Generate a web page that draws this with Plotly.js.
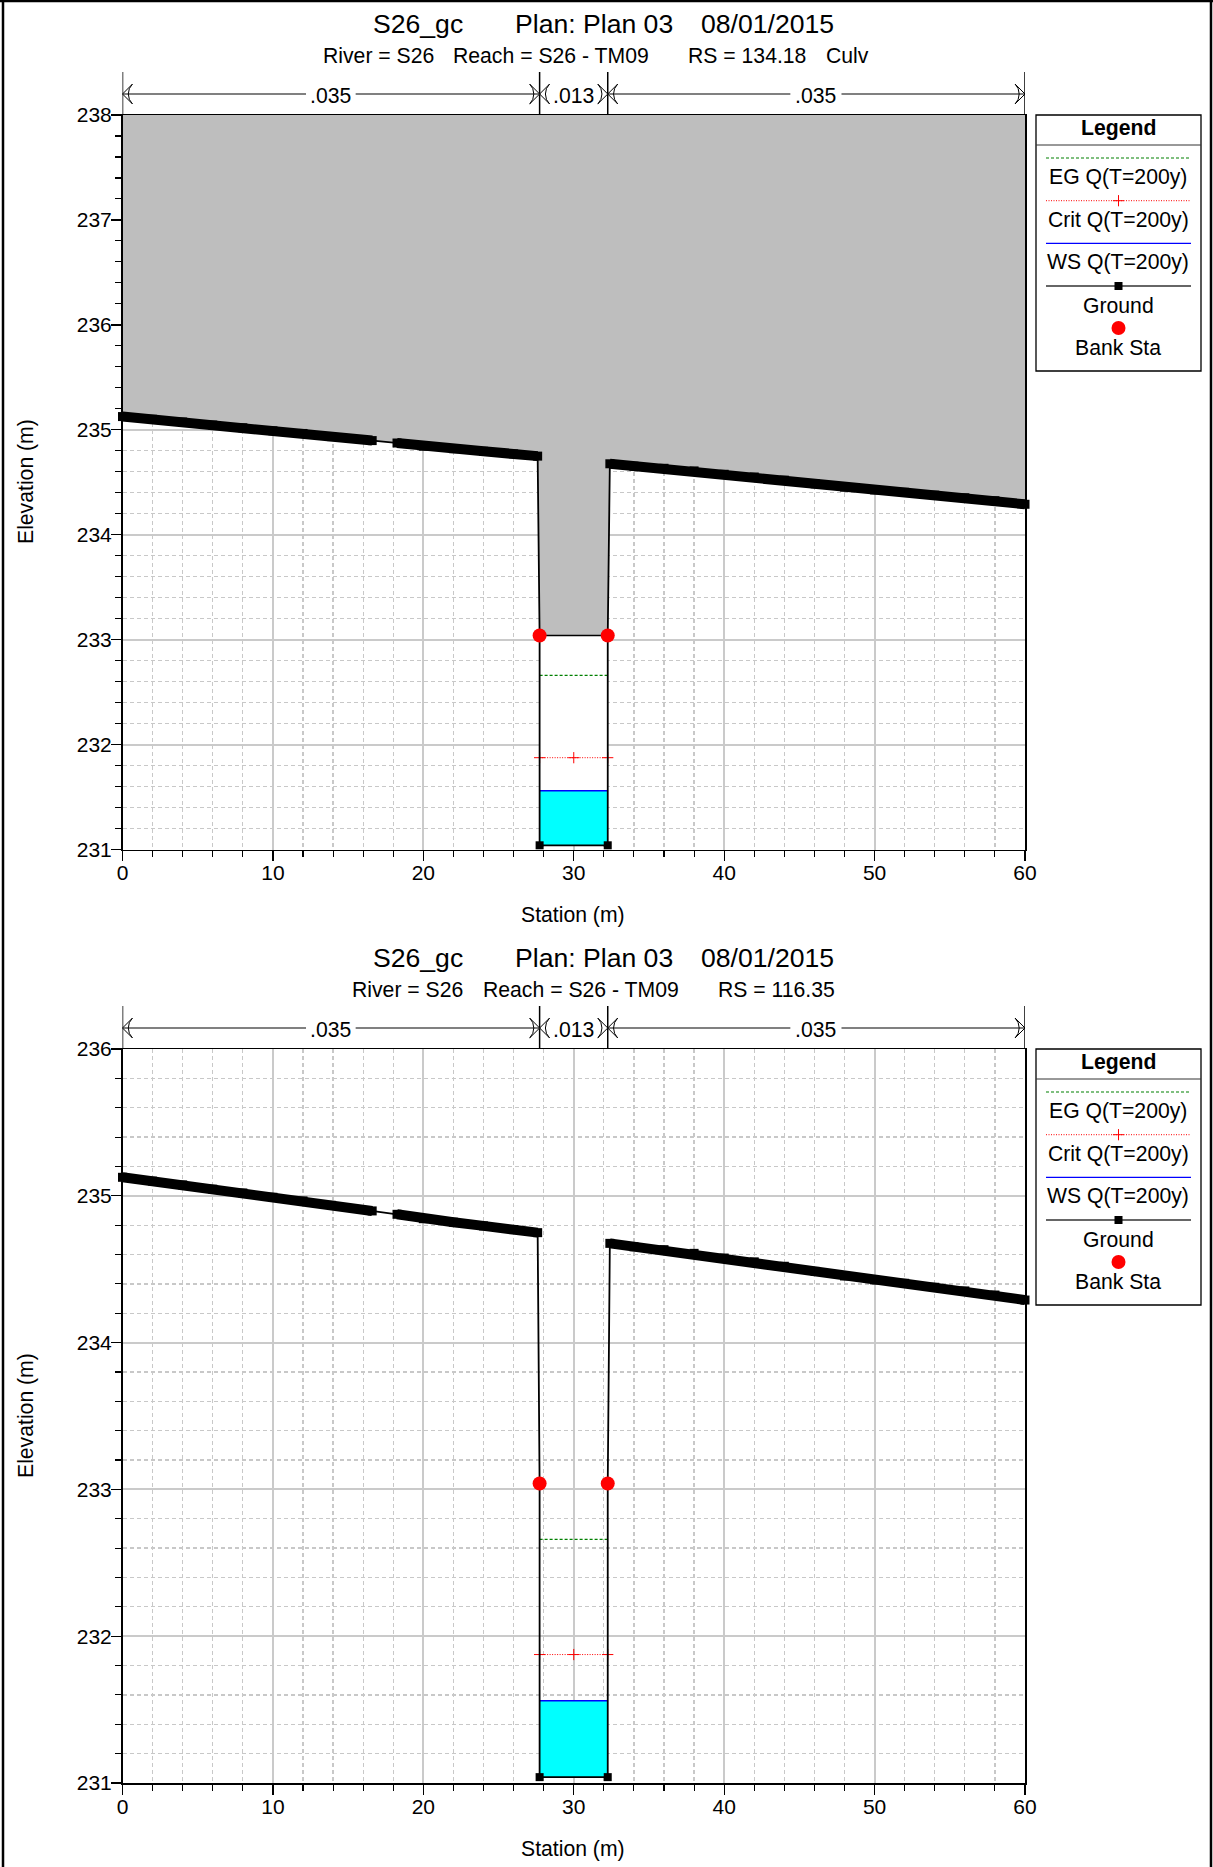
<!DOCTYPE html>
<html><head><meta charset="utf-8">
<script src="https://cdn.plot.ly/plotly-3.0.1.min.js"></script>
<style>html,body{margin:0;padding:0;background:#fff}#c{width:1213px;height:1867px}</style>
</head><body><div id="c"></div>
<script>
// ---- data ----
const groundLeftSta  = [0,2,4,6,8,10,12,13.9,16.6];
const groundLeftElev = [235.126,235.10,235.074,235.045,235.019,234.99,234.965,234.935,234.897];
const groundMidSta   = [18.25,20,22,24,26,27.6];
const groundMidElev  = [234.874,234.844,234.82,234.795,234.77,234.749];
const groundRightSta = [32.4,34,36,38,40,42,44,46.05,48,50,52,54,56,58,60];
const groundRightElev= [234.676,234.653,234.633,234.608,234.576,234.55,234.52,234.485,234.454,234.427,234.404,234.377,234.352,234.324,234.29];
const bankSta = [27.73,32.26];
const bankElev = 233.04;
const invertElev = 231.04;
const egElev = 232.66;
const critElev = 231.875;
const wsElev = 231.56;
const critSta = [27.73,30,32.26];
const nValues = [".035",".013",".035"];
const nLabelSta = [13.85,30,46.1];
const legendNames = ["EG Q(T=200y)","Crit Q(T=200y)","WS Q(T=200y)","Ground","Bank Sta"];
const titleMain = ["S26_gc","Plan: Plan 03","08/01/2015"];
const subtitles = [
  ["River = S26","Reach = S26 - TM09","RS = 134.18","Culv"],
  ["River = S26","Reach = S26 - TM09","RS = 116.35"]
];
// ---- layout constants ----
const W=1213,H=1867;
const FONT='"Liberation Sans", Arial, sans-serif';
const OFF=934;
const TXT=21.2;
const panels=[
 {xa:'x',ya:'y',ba:'y4',top:115,bottom:849.5,ymin:231,ymax:238,deck:true},
 {xa:'x2',ya:'y2',ba:'y5',top:1049,bottom:1783,ymin:231,ymax:236,deck:false}
];
const fx=p=>p/W, fy=p=>1-p/H;
const traces=[],shapes=[],ann=[];
const groundAllSta=[...groundLeftSta,...groundMidSta,bankSta[0],bankSta[0],bankSta[1],bankSta[1],...groundRightSta];
const groundAllElev=[...groundLeftElev,...groundMidElev,bankElev,invertElev,invertElev,bankElev,...groundRightElev];

panels.forEach((p,i)=>{
  const xy={xaxis:p.xa,yaxis:p.ya,mode:'lines',hoverinfo:'skip'};
  if(p.deck){
    traces.push({...xy,x:[0,60,...[...groundRightSta].reverse(),bankSta[1],bankSta[0],...[...groundMidSta].reverse(),...[...groundLeftSta].reverse()],
      y:[p.ymax,p.ymax,...[...groundRightElev].reverse(),bankElev,bankElev,...[...groundMidElev].reverse(),...[...groundLeftElev].reverse()],
      fill:'toself',fillcolor:'#bebebe',line:{width:0}});
    traces.push({...xy,x:[bankSta[0],bankSta[1],bankSta[1],bankSta[0]],y:[bankElev,bankElev,invertElev,invertElev],
      fill:'toself',fillcolor:'#ffffff',line:{width:0}});
    traces.push({...xy,x:bankSta,y:[bankElev,bankElev],line:{color:'#000',width:1.5}});
  }
  // water
  traces.push({...xy,x:[bankSta[0],bankSta[1],bankSta[1],bankSta[0]],y:[wsElev,wsElev,invertElev,invertElev],
    fill:'toself',fillcolor:'#00ffff',line:{width:0}});
  traces.push({...xy,name:legendNames[0],x:bankSta,y:[egElev,egElev],line:{color:'#008000',width:1.3,dash:'3px,2px'}});
  traces.push({...xy,name:legendNames[1],mode:'lines+markers',x:critSta,y:critSta.map(()=>critElev),
    line:{color:'#ff0000',width:1,dash:'1px,1.5px'},marker:{symbol:'cross-thin',size:8,line:{color:'#ff0000',width:1}},cliponaxis:false});
  traces.push({...xy,name:legendNames[2],x:bankSta,y:[wsElev,wsElev],line:{color:'#0000ff',width:1.5}});
  // ground thin line, then dense band
  traces.push({...xy,name:legendNames[3],x:groundAllSta,y:groundAllElev,line:{color:'#000',width:1.8},cliponaxis:false});
  traces.push({...xy,mode:'lines+markers',cliponaxis:false,
    x:[...groundLeftSta,null,...groundMidSta,null,...groundRightSta],
    y:[...groundLeftElev,null,...groundMidElev,null,...groundRightElev],
    line:{color:'#000',width:10},marker:{symbol:'square',size:9,color:'#000'},connectgaps:false});
  traces.push({...xy,mode:'markers',x:bankSta,y:[invertElev,invertElev],marker:{symbol:'square',size:8,color:'#000'},cliponaxis:false});
  traces.push({...xy,name:legendNames[4],mode:'markers',x:bankSta,y:[bankElev,bankElev],marker:{symbol:'circle',size:14,color:'#ff0000'},cliponaxis:false});

  // Manning's n bar above the plot: own strip axis (same stations, height in px above the plot)
  const bar={xaxis:'x4',yaxis:p.ba,hoverinfo:'skip',cliponaxis:false};
  const yArrow=21, yStem=43;
  const bounds=[0,bankSta[0],bankSta[1],60];
  bounds.forEach(b=>traces.push({...bar,mode:'lines',x:[b,b],y:[0,yStem],line:{color:'#000',width:1.5}}));
  traces.push({...bar,mode:'lines',x:[0,12.2,null,15.5,bankSta[0],null,bankSta[1],44.4,null,47.8,60],
    y:[yArrow,yArrow,null,yArrow,yArrow,null,yArrow,yArrow,null,yArrow,yArrow],line:{color:'#808080',width:2}});
  traces.push({...bar,mode:'markers',x:[0,bankSta[0],bankSta[0],bankSta[1],bankSta[1],60],y:[yArrow,yArrow,yArrow,yArrow,yArrow,yArrow],
    marker:{symbol:'arrow-wide-open',size:14,angle:[270,90,270,90,270,90],color:'#000',line:{color:'#222',width:1}}});
  nValues.forEach((t,j)=>ann.push({xref:'x4',yref:p.ba,x:nLabelSta[j],y:19.5,text:t,showarrow:false,xanchor:'center',yanchor:'middle',font:{size:TXT,family:FONT,color:'#000'},bgcolor:'#fff',borderpad:0}));

  // titles
  const d=i*OFF;
  [[373,titleMain[0]],[515,titleMain[1]],[701,titleMain[2]]].forEach(a=>ann.push({xref:'paper',yref:'paper',x:fx(a[0]),y:fy(24+d),text:a[1],showarrow:false,xanchor:'left',yanchor:'middle',xshift:-2,font:{size:26.6,family:FONT,color:'#000'}}));
  const sx=i==0?[322.5,453,688,826]:[352,483,718];
  subtitles[i].forEach((t,j)=>ann.push({xref:'paper',yref:'paper',x:fx(sx[j]),y:fy(55+d),text:t,showarrow:false,xanchor:'left',yanchor:'middle',xshift:-2,font:{size:TXT,family:FONT,color:'#000'}}));
  ann.push({xref:'paper',yref:'paper',x:fx(573),y:fy(915+d),text:'Station (m)',showarrow:false,xanchor:'center',yanchor:'middle',font:{size:TXT,family:FONT,color:'#000'}});
  ann.push({xref:'paper',yref:'paper',x:fx(26),y:fy(482+d),text:'Elevation (m)',textangle:-90,showarrow:false,xanchor:'center',yanchor:'middle',font:{size:TXT,family:FONT,color:'#000'}});

  // legend box
  shapes.push({type:'rect',xref:'paper',yref:'paper',x0:fx(1036),x1:fx(1201),y0:fy(115+d),y1:fy(371+d),fillcolor:'#fff',line:{color:'#000',width:1.3},layer:'below'});
  const ln=(y,color,width,dash)=>shapes.push({type:'line',xref:'paper',yref:'paper',x0:fx(1046),x1:fx(1191),y0:fy(y+d),y1:fy(y+d),line:{color,width,dash},layer:'below'});
  shapes.push({type:'line',xref:'paper',yref:'paper',x0:fx(1036),x1:fx(1201),y0:fy(145+d),y1:fy(145+d),line:{color:'#333',width:1},layer:'below'});
  ln(158,'#008000',1.2,'3px,2px'); ln(200.7,'#ff0000',1,'1px,1.5px'); ln(243.3,'#0000ff',1.3); ln(286,'#333',1.3);
  ann.push({xref:'paper',yref:'paper',x:fx(1118.5),y:fy(128+d),text:'<b>Legend</b>',showarrow:false,xanchor:'center',yanchor:'middle',font:{size:TXT,family:FONT,color:'#000'}});
  [177,220,262,305,347].forEach((y,j)=>ann.push({xref:'paper',yref:'paper',x:fx(1118),y:fy(y+d),text:legendNames[j],showarrow:false,xanchor:'center',yanchor:'middle',font:{size:TXT,family:FONT,color:'#000'}}));
  traces.push({xaxis:'x3',yaxis:'y3',mode:'markers',hoverinfo:'skip',x:[1118.5],y:[200.7+d],marker:{symbol:'cross-thin',size:8,line:{color:'#ff0000',width:1}}});
  traces.push({xaxis:'x3',yaxis:'y3',mode:'markers',hoverinfo:'skip',x:[1118.5],y:[286+d],marker:{symbol:'square',size:8,color:'#000'}});
  traces.push({xaxis:'x3',yaxis:'y3',mode:'markers',hoverinfo:'skip',x:[1118.5],y:[328+d],marker:{symbol:'circle',size:14,color:'#ff0000'}});
});
// page frame
[[fx(3),fy(0),fx(3),fy(H)],[fx(1211),fy(0),fx(1211),fy(H)],[fx(0),fy(1),fx(W),fy(1)]].forEach(s=>shapes.push({type:'line',xref:'paper',yref:'paper',x0:s[0],y0:s[1],x1:s[2],y1:s[3],line:{color:'#000',width:2.5},layer:'above'}));

const axisCommon={showline:true,mirror:true,linecolor:'#000',linewidth:1.5,ticks:'outside',ticklen:10,tickwidth:1.3,tickcolor:'#000',
  showgrid:true,gridcolor:'#cacaca',gridwidth:2,zeroline:false,tickfont:{size:21,family:FONT,color:'#000'}};
const minor=d=>({dtick:d,ticks:'outside',ticklen:6,tickwidth:1.1,tickcolor:'#000',showgrid:true,gridcolor:'#c8c8c8',gridwidth:1.3,griddash:'4px,3px'});
const xExtra={ticklabelstandoff:-6}, yExtra={ticklabelstandoff:-5};
const layout={width:W,height:H,margin:{l:0,r:0,t:0,b:0},paper_bgcolor:'#fff',plot_bgcolor:'rgba(0,0,0,0)',showlegend:false,
  shapes,annotations:ann,font:{family:FONT},
  xaxis:{...axisCommon,...xExtra,domain:[fx(122.5),fx(1025)],range:[0,60],dtick:10,tick0:0,minor:minor(2),anchor:'y'},
  yaxis:{...axisCommon,...yExtra,domain:[fy(849.5),fy(115)],range:[231,238],dtick:1,tick0:231,minor:minor(0.2),anchor:'x'},
  xaxis2:{...axisCommon,...xExtra,domain:[fx(122.5),fx(1025)],range:[0,60],dtick:10,tick0:0,minor:minor(2),anchor:'y2'},
  yaxis2:{...axisCommon,...yExtra,domain:[fy(1783),fy(1049)],range:[231,236],dtick:1,tick0:231,minor:minor(0.2),anchor:'x2'},
  xaxis3:{domain:[0,1],range:[0,W],visible:false,anchor:'y3',fixedrange:true},
  yaxis3:{domain:[0,1],range:[H,0],visible:false,anchor:'x3',fixedrange:true},
  xaxis4:{domain:[fx(122.5),fx(1025)],range:[0,60],visible:false,anchor:'y4',fixedrange:true},
  yaxis4:{domain:[fy(115),fy(72)],range:[0,43],visible:false,anchor:'x4',fixedrange:true},
  yaxis5:{domain:[fy(1049),fy(1006)],range:[0,43],visible:false,anchor:'x4',fixedrange:true}
};
Plotly.newPlot('c',traces,layout,{staticPlot:true,displayModeBar:false});
</script></body></html>
